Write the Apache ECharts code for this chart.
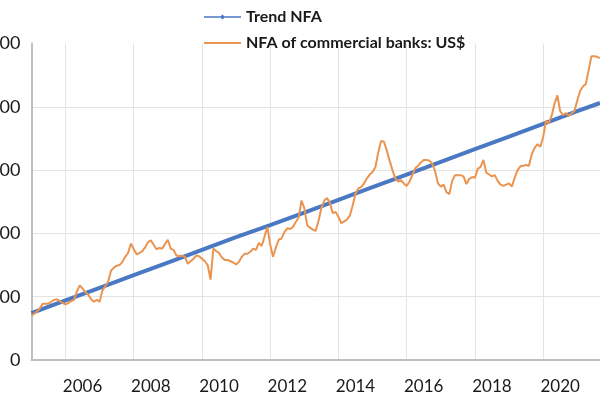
<!DOCTYPE html>
<html>
<head>
<meta charset="utf-8">
<script src="https://cdn.jsdelivr.net/npm/echarts@6/dist/echarts.min.js"></script>
<style>
html,body{margin:0;padding:0;background:#fff;}
#chart{width:600px;height:400px;}
</style>
</head>
<body>
<div id="chart"></div>
<script>
// Monthly categories: Jan 2005 .. Sep 2021
const firstYear = 2005;
const lastYear = 2021;
const lastMonth = 9;
const categories = [];
for (let y = firstYear; y <= lastYear; y++) {
  for (let m = 1; m <= 12; m++) {
    if (y === lastYear && m > lastMonth) break;
    categories.push(y + '-' + (m < 10 ? '0' + m : m));
  }
}

const yTicks = [0, 100, 200, 300, 400, 500];

// NFA of commercial banks: US$ (monthly)
const nfaBanks = [
  70, 73, 77, 82, 89, 89, 89, 92, 95, 96, 93, 90,
  88, 90, 93, 95, 108, 118, 113, 107, 103, 96, 92, 95,
  92, 110, 117, 124, 141, 146, 149, 150, 155, 163, 169, 184,
  175, 167, 169, 172, 178, 186, 189, 182, 175, 177, 176, 183,
  190, 176, 174, 165, 164, 165, 163, 152, 156, 160, 165, 164,
  160, 156, 150, 127, 176, 172, 169, 162, 158, 158, 156, 154,
  151, 155, 163, 168, 168, 171, 176, 174, 185, 180, 195, 210,
  182, 163, 178, 190, 192, 202, 208, 207, 210, 218, 225, 252,
  240, 213, 209, 206, 204, 220, 240, 252, 256, 248, 232, 234,
  226, 216, 219, 222, 228, 244, 263, 271, 273, 279, 287, 293,
  297, 305, 328, 346, 345, 331, 315, 300, 287, 282, 284, 279,
  275, 282, 292, 303, 307, 312, 316, 316, 315, 310, 298, 279,
  274, 277, 265, 262, 283, 292, 292, 292, 290, 278, 286, 289,
  288, 302, 305, 316, 296, 293, 290, 292, 283, 277, 275, 277,
  279, 274, 288, 300, 306, 307, 308, 307, 325, 335, 341, 337,
  352, 378, 374, 386, 405, 418, 393, 387, 390, 386, 390, 393,
  410, 425, 432, 436, 458, 480, 480, 479, 477
];

// Trend NFA: read at each January and at the last month
const trendMonths = ['2005-01','2006-01','2007-01','2008-01','2009-01','2010-01','2011-01','2012-01','2013-01','2014-01','2015-01','2016-01','2017-01','2018-01','2019-01','2020-01','2021-01','2021-09'];
const trendValues = [74, 94, 114, 134, 154, 174, 194, 213, 233, 253, 273, 293, 313, 333, 353, 373, 393, 406];

const trendData = trendMonths.map((c, i) => [c, trendValues[i]]);

const FONT = 'Lato';
const BLUE = '#4A78C2';
const ORANGE = '#EA9450';
const GRID = '#E4E4E4';
const chart = echarts.init(document.getElementById('chart'));
chart.setOption({
  animation: false,
  backgroundColor: '#ffffff',
  textStyle: { fontFamily: FONT },
  legend: {
    orient: 'vertical',
    left: 199,
    top: 4,
    itemWidth: 37,
    itemHeight: 14,
    itemGap: 10,
    symbolKeepAspect: true,
    textStyle: { fontFamily: FONT, fontSize: 16, fontWeight: 'bold', color: '#1a1a1a', lineHeight: 16 },
    data: [
      { name: 'Trend NFA', icon: 'path://M0,5 L100,5 L100,9 L0,9 Z M50,0 L57,7 L50,14 L43,7 Z', itemStyle: { color: BLUE } },
      { name: 'NFA of commercial banks: US$', icon: 'path://M0,0 L100,0 L100,6 L0,6 Z', itemStyle: { color: ORANGE } }
    ]
  },
  grid: { left: 31.4, right: 0, top: 43.5, bottom: 40, containLabel: false, outerBoundsMode: 'none' },
  xAxis: {
    type: 'category',
    data: categories,
    boundaryGap: false,
    axisLine: { lineStyle: { color: '#BFBFBF', width: 2 } },
    axisTick: { show: false },
    axisLabel: {
      interval: (idx, val) => val.endsWith('-07') && (parseInt(val.slice(0, 4)) % 2 === 0),
      formatter: (val) => val.slice(0, 4),
      fontFamily: FONT, fontSize: 17, color: '#1a1a1a', margin: 18
    },
    splitLine: {
      show: true,
      interval: (idx, val) => val.endsWith('-01') && (parseInt(val.slice(0, 4)) % 2 === 0),
      lineStyle: { color: GRID, width: 1 }
    }
  },
  yAxis: {
    type: 'value',
    min: yTicks[0],
    max: yTicks[yTicks.length - 1],
    interval: 100,
    axisLine: { show: true, lineStyle: { color: '#BFBFBF', width: 2 } },
    axisTick: { show: false },
    axisLabel: { fontFamily: FONT, fontSize: 18, color: '#1a1a1a', margin: 11 },
    splitLine: { lineStyle: { color: [GRID, GRID, GRID, GRID, GRID, 'rgba(255,255,255,0)'], width: 1 } }
  },
  series: [
    {
      name: 'Trend NFA',
      type: 'line',
      data: trendData,
      symbol: 'none',
      lineStyle: { color: BLUE, width: 4 },
      itemStyle: { color: BLUE },
      z: 3
    },
    {
      name: 'NFA of commercial banks: US$',
      type: 'line',
      data: nfaBanks,
      symbol: 'none',
      lineStyle: { color: ORANGE, width: 2 },
      itemStyle: { color: ORANGE },
      z: 4
    }
  ]
});
</script>
</body>
</html>
